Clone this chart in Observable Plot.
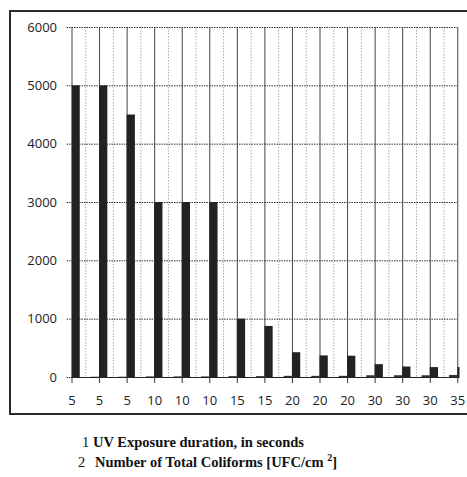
<!DOCTYPE html>
<html>
<head>
<meta charset="utf-8">
<script src="https://cdn.jsdelivr.net/npm/d3@7"></script>
<script src="https://cdn.jsdelivr.net/npm/@observablehq/plot@0.6"></script>
<style>
  html, body { margin: 0; padding: 0; background: #fff; overflow: hidden; }
  #frame { position: absolute; left: 9px; top: 10px; width: 470px; height: 405px; border: 2px solid #2a2a2a; box-sizing: border-box; }
  #chart { position: absolute; left: 11px; top: 12px; }
  .leg { position: absolute; font-family: "Liberation Serif", "Times New Roman", serif; font-size: 14.5px; line-height: 14.5px; color: #111; white-space: nowrap; }
  .leg.b { font-weight: bold; }
</style>
</head>
<body>
<div id="frame"></div>
<div id="chart"></div>
<div class="leg" style="left:82px; top:435px;">1</div>
<div class="leg b" style="left:93px; top:435px;">UV Exposure duration, in seconds</div>
<div class="leg" style="left:78px; top:455px;">2</div>
<div class="leg b" style="left:95px; top:455px;">Number of Total Coliforms [UFC/cm <span style="font-size:10px; position:relative; top:-6px;">2</span>]</div>
<script>
const labels = ["5","5","5","10","10","10","15","15","20","20","20","30","30","30","35"];
const uvSeconds = [5,5,5,10,10,10,15,15,20,20,20,30,30,30,35];
const coliforms = [5000,5000,4500,3000,3000,3000,1000,875,425,370,365,220,180,170,170];
const yTicks = [0,1000,2000,3000,4000,5000,6000];

const data = labels.map((l, i) => ({i, label: l, uv: uvSeconds[i], col: coliforms[i]}));
const idx = labels.map((_, i) => i);
const halves = idx.slice(0, -1).map(i => i + 0.5);
const w = 0.3;

const chart = Plot.plot({
  width: 456,
  height: 401,
  marginLeft: 60.5,
  marginRight: 7.5,
  marginTop: 15,
  marginBottom: 36,
  style: {fontFamily: "'Open Sans', sans-serif", fontSize: "13px", color: "#222", background: "transparent"},
  x: {type: "linear", domain: [0, labels.length - 1 + 0.08], axis: null},
  y: {domain: [0, 6000], axis: null},
  marks: [
    Plot.ruleX(halves, {stroke: "#aaa", strokeDasharray: "1.5,1.5"}),
    Plot.ruleX(idx, {stroke: "#444", strokeWidth: 1}),
    Plot.ruleY(yTicks, {stroke: "#333", strokeDasharray: "1.5,1", insetLeft: -5, x1: 0, x2: labels.length - 1}),
    Plot.rectY(data, {x1: d => d.i - w, x2: d => d.i, y: "uv", fill: "#333", clip: true}),
    Plot.rectY(data, {x1: d => d.i, x2: d => d.i + w, y: "col", fill: "#222", clip: true}),
    Plot.ruleY([0], {stroke: "#222", strokeWidth: 1.2}),
    Plot.axisX(idx, {tickFormat: i => labels[i], tickSize: 6, tickPadding: 12, stroke: "#333"}),
    Plot.axisY(yTicks, {tickSize: 0, tickPadding: 15, tickFormat: "d"})
  ]
});
document.getElementById("chart").appendChild(chart);
</script>
</body>
</html>
